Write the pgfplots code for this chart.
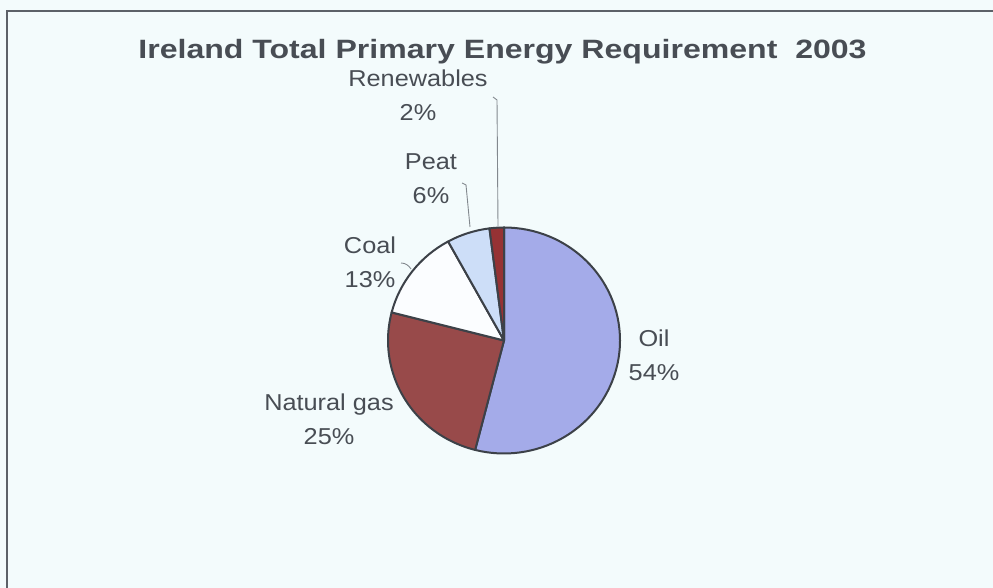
\documentclass[border=0pt]{standalone}
\usepackage{fontspec}
\setmainfont{Liberation Sans}
\usepackage{pgfplots}
\usepackage{pgfplotstable}
\pgfplotsset{compat=1.18}

\definecolor{bg}{RGB}{243,251,252}
\definecolor{frame}{RGB}{92,97,104}
\definecolor{edge}{RGB}{60,65,72}
\definecolor{txt}{RGB}{72,77,84}
\definecolor{leader}{RGB}{130,136,142}
\definecolor{oilc}{RGB}{164,171,233}
\definecolor{gasc}{RGB}{152,74,74}
\definecolor{coalc}{RGB}{251,253,255}
\definecolor{peatc}{RGB}{205,222,248}
\definecolor{renc}{RGB}{150,50,52}

% share of total primary energy requirement (%), with label position
\pgfplotstableread[col sep=comma,row sep=\\]{
name,value,colour,lx,ly\\
Oil,54,oilc,654,241.3\\
Natural gas,25,gasc,329,177.3\\
Coal,13,coalc,370,334\\
Peat,6,peatc,431,418\\
Renewables,2,renc,418,501.3\\
}\energy

\tikzset{lab/.style={font=\fontsize{23}{27}\selectfont, text=txt, inner sep=0pt, anchor=base, xscale=1.1}}

\begin{document}
\begin{tikzpicture}
\useasboundingbox (0,0) rectangle (993pt,588pt);
\fill[bg] (0,0) rectangle (993pt,588pt);
\draw[frame, line width=2pt] (7pt,0) -- (7pt,577pt) -- (993pt,577pt);

\begin{axis}[
  at={(0,0)}, anchor=south west,
  scale only axis, width=993pt, height=588pt,
  xmin=0, xmax=993, ymin=0, ymax=588,
  hide axis, clip=false,
]
% slices, clockwise from twelve o'clock
\pgfplotsextra{%
  \pgfplotstablegetrowsof{\energy}%
  \pgfmathtruncatemacro{\lastrow}{\pgfplotsretval-1}%
  \gdef\startang{90}%
  \foreach \i in {0,...,\lastrow}{%
    \pgfplotstablegetelem{\i}{value}\of\energy \let\val\pgfplotsretval
    \pgfplotstablegetelem{\i}{colour}\of\energy \let\col\pgfplotsretval
    \pgfplotstablegetelem{\i}{name}\of\energy \let\nm\pgfplotsretval
    \pgfplotstablegetelem{\i}{lx}\of\energy \let\lx\pgfplotsretval
    \pgfplotstablegetelem{\i}{ly}\of\energy \let\ly\pgfplotsretval
    \pgfmathsetmacro{\lyy}{\ly-33.5}%
    \pgfmathsetmacro{\endang}{\startang-3.6*\val}%
    \filldraw[fill=\col, draw=edge, line width=2pt, line join=round]
      (axis cs:504,247.5) -- ++(\startang:116pt and 113pt)
      arc[start angle=\startang, end angle=\endang, x radius=116pt, y radius=113pt] -- cycle;
    \node[lab] at (axis cs:\lx,\ly) {\nm};
    \node[lab] at (axis cs:\lx,\lyy) {\val\%};
    \xdef\startang{\endang}%
  }%
}
% leader lines
\draw[leader, line width=0.9pt] (axis cs:493,491) -- (axis cs:497,488) -- (axis cs:498,362);
\draw[leader, line width=0.9pt] (axis cs:462,405) -- (axis cs:466,403) -- (axis cs:470,361);
\draw[leader, line width=0.9pt] (axis cs:401,325) .. controls (axis cs:406,325) and (axis cs:409,322) .. (axis cs:411,319);

\node[font=\bfseries\fontsize{26.5}{30}\selectfont, text=txt, anchor=base, inner sep=0pt, xscale=1.21]
  at (axis cs:502.5,529.5) {Ireland Total Primary Energy Requirement\ \ 2003};
\end{axis}
\end{tikzpicture}
\end{document}
